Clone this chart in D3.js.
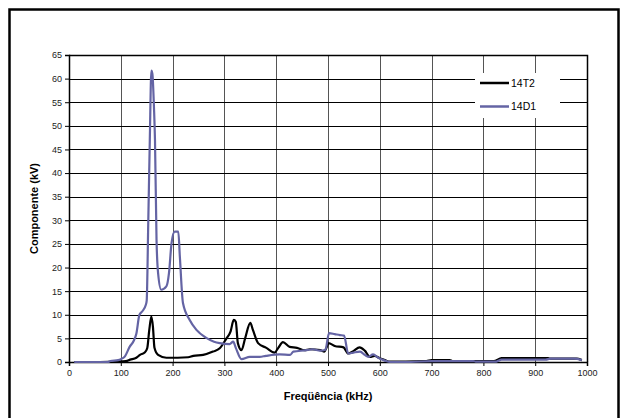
<!DOCTYPE html>
<html>
<head>
<meta charset="utf-8">
<script src="https://cdn.jsdelivr.net/npm/d3@7.9.0/dist/d3.min.js"></script>
<style>
  body { margin: 0; background: #fff; }
  svg { display: block; font-family: "Liberation Sans", Arial, sans-serif; }
</style>
</head>
<body>
<svg id="chart" width="621" height="418"></svg>
<script>
// 14T2 (black)
const t2Freq = [10, 60, 90, 110, 118, 130, 137, 146, 151, 155, 159, 162, 165, 172, 188, 210, 230, 240, 259, 278, 291, 304, 312, 318, 322, 326, 333, 340, 350, 355, 365, 381, 397, 404, 413, 426, 440, 455, 465, 485, 493, 497, 501, 513, 530, 539, 549, 561, 571, 581, 590, 600, 610, 617, 650, 690, 700, 735, 740, 820, 835, 925, 930, 980, 990];
const t2Vals = [0, 0, 0.1, 0.2, 0.5, 0.9, 1.5, 2, 2.9, 6.8, 9.6, 7.5, 3, 1.5, 0.9, 0.9, 1.0, 1.3, 1.5, 2.2, 2.9, 5, 6.5, 8.9, 8.5, 4, 2.5, 5, 8.3, 6.8, 4, 3, 2, 3, 4.2, 3.2, 3, 2.5, 2.7, 2.5, 2.2, 3, 4, 3.4, 3.1, 1.8, 2.3, 3.1, 2.4, 1.1, 1.3, 0.8, 0.4, 0.1, 0.1, 0.2, 0.4, 0.4, 0.2, 0.2, 0.8, 0.8, 0.7, 0.7, 0.4];

// 14D1 (blue)
const d1Freq = [10, 75, 80, 95, 100, 108, 117, 125, 130, 136, 142, 148, 150, 153, 156, 159, 161, 164, 166, 169, 172, 178, 188, 193, 198, 204, 211, 214, 220, 233, 246, 265, 280, 291, 310, 317, 322, 333, 349, 368, 380, 407, 427, 433, 459, 470, 485, 495, 502, 513, 523, 531, 539, 549, 562, 571, 578, 587, 597, 610, 620, 660, 700, 780, 785, 825, 835, 920, 930, 975, 990];
const d1Vals = [0, 0, 0.2, 0.4, 0.6, 1.2, 3.2, 4.5, 6, 10, 10.8, 12, 13, 29.5, 47, 61.7, 61, 54, 47, 25.8, 18.8, 15.3, 16, 18.8, 25.2, 27.6, 27.6, 22.3, 12.5, 8.9, 6.8, 5.1, 4.3, 4, 3.8, 4.3, 3, 0.6, 1.1, 1.1, 1.3, 1.6, 1.5, 2.2, 2.5, 2.7, 2.4, 2.6, 6.1, 5.9, 5.7, 5.6, 1.8, 2, 2.2, 1.5, 1.1, 1.6, 0.9, 0.3, 0, 0, 0.2, 0.2, 0.1, 0.1, 0.5, 0.5, 0.7, 0.7, 0.4];

const xTicks = [0, 100, 200, 300, 400, 500, 600, 700, 800, 900, 1000];
const yTicks = [0, 5, 10, 15, 20, 25, 30, 35, 40, 45, 50, 55, 60, 65];

const series = [
  { label: '14T2', color: '#000000', freq: t2Freq, vals: t2Vals },
  { label: '14D1', color: '#6464a4', freq: d1Freq, vals: d1Vals }
];

const svg = d3.select('#chart');

// outer frame
svg.append('rect')
  .attr('x', 9.5).attr('y', 9.5)
  .attr('width', 609).attr('height', 430)
  .attr('fill', 'none').attr('stroke', '#000').attr('stroke-width', 2.5);

const plotL = 69, plotR = 587, plotT = 55, plotB = 362;

const x = d3.scaleLinear().domain([0, 1000]).range([plotL, plotR]);
const y = d3.scaleLinear().domain([0, 65]).range([plotB, plotT]);

// grid
svg.append('g')
  .selectAll('line')
  .data(xTicks.slice(1))
  .join('line')
  .attr('x1', d => Math.round(x(d)) + 0.5).attr('x2', d => Math.round(x(d)) + 0.5)
  .attr('y1', plotT).attr('y2', plotB)
  .attr('stroke', '#555').attr('stroke-width', 1);

svg.append('g')
  .selectAll('line')
  .data(yTicks.slice(1))
  .join('line')
  .attr('x1', plotL).attr('x2', plotR)
  .attr('y1', d => Math.round(y(d)) + 0.5).attr('y2', d => Math.round(y(d)) + 0.5)
  .attr('stroke', '#000').attr('stroke-width', 1);

// axes
const xAxis = svg.append('g')
  .attr('transform', `translate(0,${plotB})`)
  .call(d3.axisBottom(x).tickValues(xTicks).tickFormat(d3.format('d')).tickSize(4).tickPadding(4));
const yAxis = svg.append('g')
  .attr('transform', `translate(${plotL},0)`)
  .call(d3.axisLeft(y).tickValues(yTicks).tickFormat(d3.format('d')).tickSize(4).tickPadding(3));

[xAxis, yAxis].forEach(g => {
  g.select('.domain').attr('stroke', '#000').attr('stroke-width', 1.5);
  g.selectAll('.tick line').attr('stroke', '#000');
  g.selectAll('.tick text')
    .attr('fill', '#222')
    .style('font-size', '9px')
    .style('font-family', '"Liberation Sans", Arial, sans-serif');
});

// legend box (white, hides grid)
const lg = svg.append('g').attr('transform', 'translate(475,73)');
lg.append('rect').attr('width', 85).attr('height', 45).attr('fill', '#fff');

// lines
series.forEach(s => {
  const pts = s.freq.map((f, i) => [f, s.vals[i]]);
  svg.append('path')
    .datum(pts)
    .attr('fill', 'none')
    .attr('stroke', s.color)
    .attr('stroke-width', 2.2)
    .attr('stroke-linejoin', 'round')
    .attr('d', d3.line().curve(d3.curveMonotoneX).x(d => x(d[0])).y(d => y(d[1])));
});

series.forEach((s, i) => {
  const row = lg.append('g').attr('transform', `translate(5,${10 + i * 23.5})`);
  row.append('line').attr('x1', 0).attr('x2', 29)
    .attr('stroke', s.color).attr('stroke-width', 2.5);
  row.append('text').attr('x', 31).attr('dy', '0.35em')
    .style('font-size', '10.5px').attr('fill', '#000').text(s.label);
});

// top and right border of plot
svg.append('path')
  .attr('d', `M${plotL},${plotT + 0.5}H${plotR + 0.5}V${plotB}`)
  .attr('fill', 'none').attr('stroke', '#000').attr('stroke-width', 1.5);

// titles
svg.append('text')
  .attr('x', (plotL + plotR) / 2).attr('y', 400)
  .attr('text-anchor', 'middle')
  .style('font-size', '11px').style('font-weight', 'bold')
  .text('Freqüência (kHz)');

svg.append('text')
  .attr('transform', `translate(38,${(plotT + plotB) / 2}) rotate(-90)`)
  .attr('text-anchor', 'middle')
  .style('font-size', '11px').style('font-weight', 'bold')
  .text('Componente (kV)');
</script>
</body>
</html>
